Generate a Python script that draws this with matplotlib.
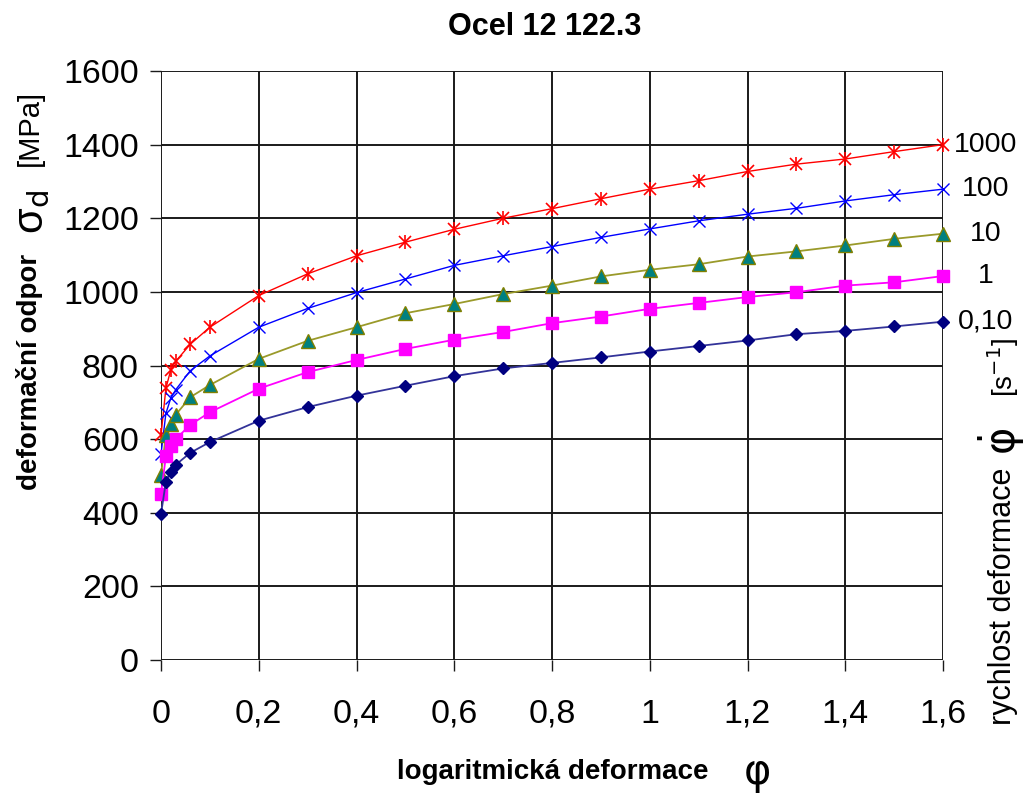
import matplotlib.pyplot as plt

# logarithmic strain (phi) and flow stress for several strain rates
phi = [0, 0.01, 0.02, 0.03, 0.06, 0.1, 0.2, 0.3, 0.4, 0.5, 0.6, 0.7, 0.8,
       0.9, 1.0, 1.1, 1.2, 1.3, 1.4, 1.5, 1.6]

s_1000 = [610, 738, 788, 811, 858, 904, 990, 1049, 1098, 1135, 1170, 1200,
          1226, 1253, 1279, 1302, 1327, 1347, 1361, 1381, 1400]
s_100 = [559, 670, 711, 734, 786, 826, 904, 955, 998, 1035, 1072, 1098,
         1123, 1148, 1171, 1193, 1211, 1227, 1247, 1264, 1279]
s_10 = [503, 611, 641, 666, 714, 747, 818, 867, 904, 942, 967, 994,
        1017, 1042, 1060, 1075, 1096, 1110, 1126, 1144, 1158]
s_1 = [452, 553, 580, 600, 639, 673, 737, 782, 815, 845, 870, 891,
       915, 933, 954, 970, 986, 999, 1017, 1026, 1043]
s_01 = [397, 484, 512, 530, 563, 592, 650, 687, 718, 745, 771, 792,
        807, 822, 838, 853, 868, 885, 894, 906, 919]

rate_labels = ['1000', '100', '10', '1', '0,10']

x_ticks = [0, 0.2, 0.4, 0.6, 0.8, 1.0, 1.2, 1.4, 1.6]
x_ticklabels = ['0', '0,2', '0,4', '0,6', '0,8', '1', '1,2', '1,4', '1,6']
y_ticks = [0, 200, 400, 600, 800, 1000, 1200, 1400, 1600]

plt.rcParams['font.family'] = ['Liberation Sans', 'DejaVu Sans']
plt.rcParams['mathtext.fontset'] = 'dejavusans'

fig = plt.figure(figsize=(10.29, 7.93), dpi=100)
ax = fig.add_axes([161 / 1029, 1 - 660 / 793, (943 - 161) / 1029, (660 - 71) / 793])

grid_c = '#1a1a1a'
ax.set_xlim(0, 1.6)
ax.set_ylim(0, 1600)
ax.set_xticks(x_ticks)
ax.set_xticklabels(x_ticklabels)
ax.set_yticks(y_ticks)
ax.grid(True, color=grid_c, linewidth=1.4)
ax.set_axisbelow(True)
for sp in ax.spines.values():
    sp.set_visible(False)
ax.tick_params(direction='out', length=8, width=1.0, color=grid_c,
               labelsize=24.5, pad=8)
ax.tick_params(axis='x', pad=20)

# series
ax.plot(phi, s_1000, color='#ff0000', lw=1.0, marker='x', ms=8.5, mew=1.2, clip_on=False)
ax.plot(phi, s_1000, ls='none', color='#ff0000', marker='|', ms=9.5, mew=1.2, clip_on=False)
ax.plot(phi, s_100, color='#0000ff', lw=1.0, marker='x', ms=8.5, mew=1.0, clip_on=False)
ax.plot(phi, s_10, color='#9a9a2a', lw=1.3, marker='^', ms=10, mfc='#008080',
        mec='#808000', mew=1.0, clip_on=False)
ax.plot(phi, s_1, color='#ff00ff', lw=1.3, marker='s', ms=8.5, mfc='#ff00ff',
        mec='#ff00ff', clip_on=False)
ax.plot(phi, s_01, color='#333399', lw=1.3, marker='D', ms=6.5, mfc='#000080',
        mec='#000080', clip_on=False)

# rate labels at the end of each curve
for lab, ser in zip(rate_labels, [s_1000, s_100, s_10, s_1, s_01]):
    ax.annotate(lab, xy=(1.6, ser[-1]), xytext=(31, 0), textcoords='offset points',
                ha='center', va='center', fontsize=20.5, annotation_clip=False)

fig.text(545 / 1029, 1 - 27 / 793, 'Ocel 12 122.3', ha='center', va='center',
         fontsize=22, fontweight='bold')

fig.text(553 / 1029, 1 - 772 / 793, 'logaritmická deformace', ha='center',
         va='center', fontsize=20, fontweight='bold')
fig.text(757 / 1029, 1 - 772 / 793, 'φ', ha='center', va='center', fontsize=30,
         family='DejaVu Sans')

fig.text(30 / 1029, 1 - 372 / 793, 'deformační odpor', rotation=90, ha='center',
         va='center', fontsize=20, fontweight='bold')
fig.text(32 / 1029, 1 - 212 / 793, r'σ$_{\mathrm{d}}$', rotation=90,
         ha='center', va='center', fontsize=30)
fig.text(30 / 1029, 1 - 128 / 793, '[MPa]', rotation=90,
         ha='center', va='center', fontsize=21)

fig.text(1003 / 1029, 1 - 596 / 793, 'rychlost deformace', rotation=90,
         ha='center', va='center', fontsize=22)
fig.text(1002 / 1029, 1 - 442 / 793, r'$\dot{\mathrm{\varphi}}$', rotation=90,
         ha='center', va='center', fontsize=30)
fig.text(1003 / 1029, 1 - 367 / 793, r'[s$^{\mathsf{-1}}$]', rotation=90,
         ha='center', va='center', fontsize=20)

fig.savefig('out.png', dpi=100)
